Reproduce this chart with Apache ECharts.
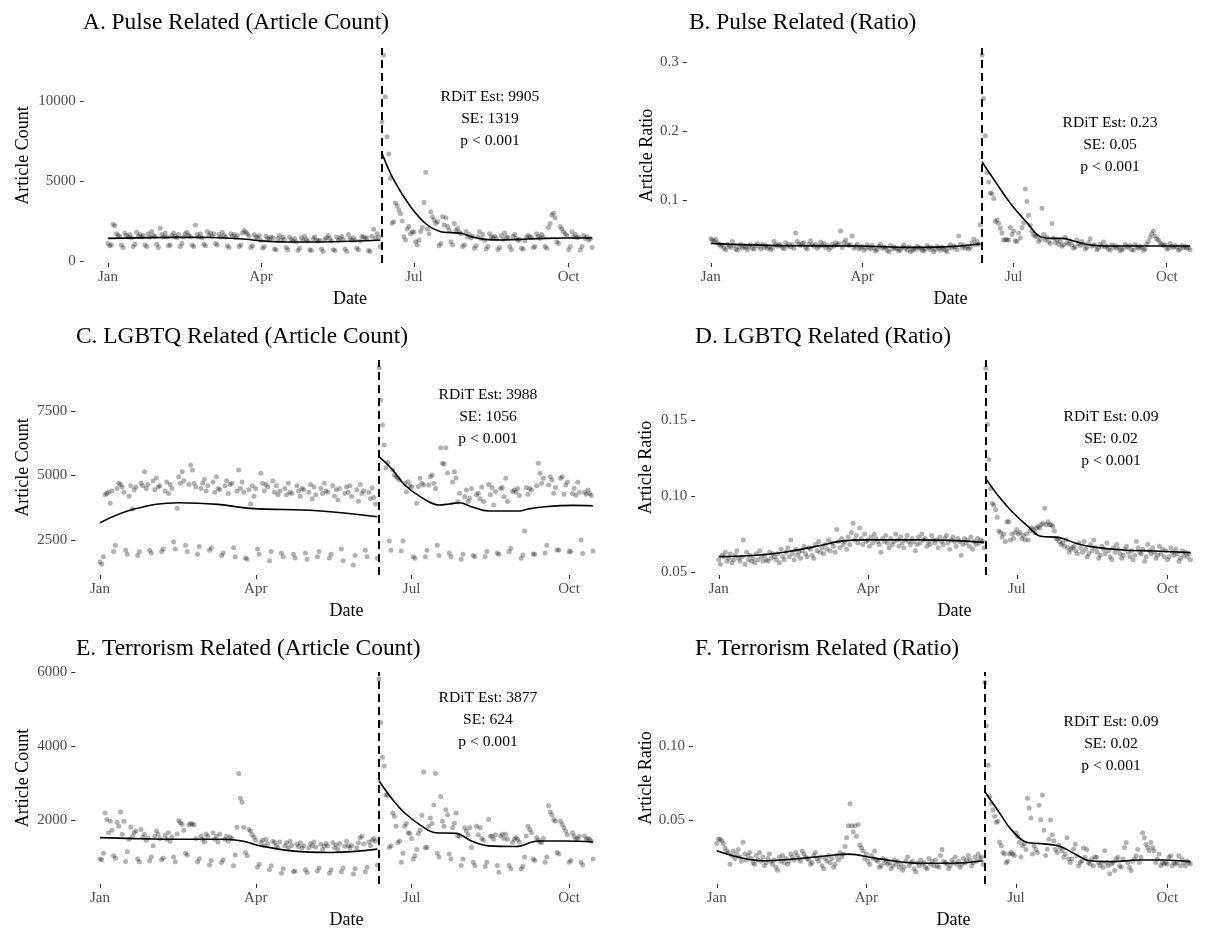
<!DOCTYPE html>
<html>
<head>
<meta charset="utf-8">
<script src="https://cdn.jsdelivr.net/npm/echarts@6/dist/echarts.min.js"></script>
<style>
  html, body { margin: 0; padding: 0; background: #fff; }
  #chart { width: 1214px; height: 930px; }
</style>
</head>
<body>
<div id="chart"></div>
<script>
// day index 0 = 2016-01-01 (Friday); one row = one week (Fri..Thu)
const cutoffDay = 163; // 2016-06-12
const monthTicks = [0, 91, 182, 274];
const monthLabels = ["Jan", "Apr", "Jul", "Oct"];

const pulseCount = [
  1100, 950, 1000, 2300, 2200, 1700, 1600,
  1550, 1000, 850, 1750, 1600, 1500, 1650,
  1450, 900, 1050, 1800, 1550, 1650, 1500,
  1600, 1000, 900, 1700, 1500, 1850, 1600,
  1550, 1050, 850, 2050, 1650, 1500, 1750,
  1500, 950, 1000, 1600, 1750, 1550, 1450,
  1650, 900, 1100, 1500, 1700, 1800, 1600,
  1550, 1000, 900, 2250, 1650, 1500, 1700,
  1450, 1050, 950, 1850, 1600, 1750, 1550,
  1700, 1100, 1000, 1650, 1500, 1800, 1600,
  1500, 950, 850, 1700, 1550, 1650, 1450,
  1600, 900, 1000, 1750, 1900, 1800, 1700,
  1550, 850, 950, 1650, 1500, 1450, 1600,
  1300, 800, 900, 1550, 1400, 1350, 1500,
  1450, 750, 700, 1400, 1600, 1300, 1500,
  1350, 850, 700, 1500, 1350, 1250, 1400,
  1200, 650, 800, 1450, 1300, 1550, 1350,
  1250, 700, 650, 1400, 1500, 1300, 1250,
  1300, 750, 600, 1350, 1450, 1600, 1400,
  1250, 700, 650, 1500, 1300, 1400, 1550,
  1350, 750, 600, 1650, 1400, 1300, 1450,
  1300, 800, 700, 1250, 1550, 1500, 1400,
  1450, 650, 600, 1550, 1980, 1400, 1700,
  1500, 900, 8700, 12875, 10270, 7770, 6690,
  5170, 2360, 2450, 3625, 3460, 3190, 2950,
  2500, 1520, 1310, 2000, 2150, 1700, 1830,
  1800, 1200, 1000, 1300, 1850, 2100, 3650,
  5540, 2000, 1700, 3080, 2770, 2560, 2350,
  2460, 960, 1100, 2770, 2250, 2700, 2150,
  1940, 1200, 1000, 2350, 1900, 2050, 1800,
  1700, 900, 1000, 1850, 1500, 1650, 1450,
  1550, 800, 950, 1520, 1830, 1400, 1650,
  1300, 750, 900, 1700, 1500, 1450, 1550,
  1400, 700, 850, 1600, 1350, 1750, 1500,
  1450, 900, 700, 1550, 1650, 1400, 1300,
  1350, 800, 750, 1250, 1500, 1600, 1520,
  1450, 850, 900, 1700, 1550, 1400, 1650,
  1500, 900, 800, 2100, 2350, 2875, 2980,
  2700, 1200, 1100, 2150, 2000, 1830, 1700,
  1600, 700, 900, 1830, 1520, 1650, 1450,
  1500, 690, 900, 1600, 1400, 1520, 1310,
  1400, 850
];

const pulseRatio = [
  .044, .042, .040, .043, .038, .036, .033,
  .035, .030, .028, .036, .033, .031, .040,
  .034, .029, .027, .032, .036, .030, .033,
  .031, .028, .033, .035, .030, .029, .034,
  .037, .033, .029, .036, .031, .034, .030,
  .032, .028, .030, .040, .035, .033, .036,
  .034, .031, .029, .038, .033, .036, .032,
  .035, .030, .052, .040, .036, .034, .037,
  .038, .031, .029, .036, .041, .035, .033,
  .036, .030, .033, .039, .034, .037, .031,
  .034, .028, .031, .036, .033, .038, .035,
  .037, .055, .031, .038, .042, .036, .034,
  .035, .048, .030, .033, .036, .029, .031,
  .033, .027, .030, .035, .031, .029, .034,
  .030, .026, .028, .033, .036, .030, .032,
  .031, .027, .025, .034, .029, .032, .030,
  .029, .026, .028, .031, .035, .030, .027,
  .032, .025, .027, .030, .028, .033, .031,
  .030, .027, .026, .029, .034, .031, .028,
  .031, .025, .028, .033, .030, .027, .032,
  .029, .027, .025, .031, .035, .030, .033,
  .032, .028, .048, .036, .031, .034, .030,
  .033, .029, .031, .038, .043, .035, .040,
  .036, .064, .310, .247, .193, .140, .126,
  .110, .109, .102, .069, .071, .066, .059,
  .052, .042, .043, .042, .042, .060, .050,
  .055, .041, .040, .052, .045, .060, .067,
  .116, .098, .078, .063, .055, .050, .048,
  .047, .040, .043, .088, .050, .042, .046,
  .040, .037, .066, .045, .038, .042, .036,
  .040, .033, .035, .046, .038, .036, .041,
  .035, .030, .032, .042, .037, .034, .040,
  .036, .029, .031, .038, .044, .033, .035,
  .034, .028, .030, .036, .033, .039, .032,
  .033, .029, .027, .035, .031, .034, .030,
  .032, .026, .028, .030, .036, .033, .031,
  .034, .028, .027, .035, .032, .030, .033,
  .031, .027, .029, .036, .040, .046, .051,
  .055, .048, .044, .042, .038, .036, .034,
  .035, .029, .030, .037, .033, .031, .034,
  .032, .027, .029, .034, .031, .033, .030,
  .031, .028
];

const lgbtqCount = [
  1650, 1560, 1850, 4250, 4300, 4350, 3920,
  4400, 2050, 2300, 4500, 4700, 4650, 4550,
  4350, 2100, 1950, 4200, 4600, 3700, 4450,
  4550, 1900, 2050, 4700, 4600, 5150, 4500,
  4650, 2100, 2000, 4800, 4450, 4900, 4550,
  4600, 2050, 2150, 4400, 4750, 4300, 4650,
  4500, 2435, 2150, 3730, 4950, 4700, 5150,
  4800, 2300, 2050, 4650, 5407, 5213, 4700,
  4550, 1950, 2250, 4500, 4700, 4850, 4400,
  4600, 2100, 2200, 4750, 4350, 4950, 4500,
  4450, 1900, 2000, 4600, 4800, 4300, 4650,
  4700, 2200, 1850, 4400, 5213, 4500, 4750,
  4350, 1800, 1750, 4450, 3900, 4600, 4200,
  4500, 2150, 1950, 5084, 4700, 4400, 4650,
  4550, 1700, 2050, 4800, 4350, 4600, 4250,
  4400, 2000, 1850, 4500, 4250, 4700, 4350,
  4300, 1950, 1800, 4600, 4400, 4200, 4500,
  4450, 2000, 1750, 4350, 4650, 4100, 4550,
  4250, 1850, 2050, 4500, 4300, 4700, 4400,
  4350, 1800, 1950, 4600, 4200, 4450, 4050,
  4500, 2150, 1700, 4300, 4550, 4350, 4600,
  4200, 1531, 1900, 4450, 4000, 4650, 4300,
  4400, 2100, 1850, 4350, 4100, 4527, 4150,
  3895, 1790, 9178, 7926, 6957, 6182, 5300,
  5500, 2460, 2100, 5213, 5019, 4954, 4900,
  4825, 2070, 2460, 4700, 4370, 4760, 4600,
  4550, 1850, 1790, 3920, 4570, 4890, 4700,
  4630, 1850, 2100, 4630, 4950, 5020, 4700,
  4500, 2300, 1900, 6078, 5470, 5450, 6078,
  5100, 2000, 1850, 4750, 5150, 4900, 3985,
  4310, 1750, 1950, 4180, 4440, 3990, 4120,
  4500, 1900, 1850, 4250, 4310, 4100, 4550,
  3990, 1860, 2050, 4650, 4250, 4530, 3860,
  4380, 2000, 1950, 4500, 4530, 4180, 4890,
  3990, 2050, 2180, 4380, 4440, 4350, 4500,
  4220, 1790, 1920, 2850, 4530, 4270, 4500,
  4440, 1960, 1950, 4600, 5472, 5085, 4700,
  4890, 2000, 2300, 4630, 4950, 4830, 4310,
  4530, 2110, 2110, 4890, 4950, 4270, 4630,
  4750, 2050, 2050, 4300, 4500, 4230, 4740,
  4350, 2500, 1980, 4350, 4270, 4440, 4300,
  4220, 2070
];

const lgbtqRatio = [
  .058, .055, .061, .060, .063, .057, .059,
  .062, .056, .058, .061, .064, .059, .057,
  .060, .071, .055, .063, .058, .061, .057,
  .059, .056, .062, .058, .064, .060, .057,
  .061, .058, .057, .063, .059, .062, .060,
  .058, .062, .056, .065, .060, .058, .063,
  .066, .060, .071, .062, .058, .065, .061,
  .063, .059, .064, .067, .062, .060, .066,
  .065, .061, .059, .068, .064, .070, .063,
  .066, .062, .068, .065, .071, .064, .069,
  .067, .063, .078, .070, .066, .072, .068,
  .070, .065, .073, .068, .076, .082, .071,
  .074, .069, .079, .072, .068, .075, .070,
  .071, .067, .073, .069, .075, .072, .070,
  .068, .063, .072, .070, .074, .069, .066,
  .072, .068, .070, .075, .071, .067, .073,
  .069, .066, .071, .074, .070, .068, .072,
  .070, .064, .068, .073, .069, .075, .071,
  .072, .067, .070, .068, .074, .071, .069,
  .071, .066, .073, .070, .068, .072, .074,
  .069, .065, .071, .073, .070, .067, .072,
  .070, .061, .068, .072, .069, .071, .067,
  .073, .065, .070, .068, .072, .069, .071,
  .070, .066, .184, .147, .124, .105, .095,
  .094, .091, .086, .077, .076, .073, .075,
  .070, .083, .083, .071, .075, .072, .076,
  .078, .075, .076, .072, .074, .071, .075,
  .071, .077, .079, .078, .076, .079, .080,
  .079, .081, .082, .092, .081, .083, .081,
  .081, .080, .077, .072, .072, .070, .068,
  .069, .067, .071, .066, .063, .065, .066,
  .067, .064, .062, .069, .066, .063, .070,
  .065, .060, .062, .068, .064, .071, .066,
  .063, .059, .061, .067, .065, .062, .069,
  .064, .060, .058, .066, .063, .068, .065,
  .062, .059, .061, .065, .067, .063, .060,
  .064, .058, .061, .070, .066, .063, .062,
  .065, .057, .060, .068, .064, .062, .066,
  .063, .059, .061, .067, .062, .065, .060,
  .064, .058, .060, .066, .063, .061, .065,
  .062, .057, .059, .064, .061, .063, .060,
  .062, .058
];

const terrorCount = [
  942, 920, 1098, 2187, 2009, 1653, 1964,
  1720, 1031, 960, 1938, 1831, 2213, 1609,
  1964, 876, 1142, 1476, 1809, 1560, 1650,
  1698, 942, 870, 1742, 1530, 1609, 1450,
  1520, 887, 1000, 1298, 1560, 1700, 1620,
  1500, 920, 960, 1580, 1480, 1650, 1420,
  1540, 1000, 870, 1620, 1980, 1920, 1880,
  1720, 1098, 1050, 1870, 1900, 1890, 1860,
  1500, 860, 950, 1560, 1480, 1400, 1620,
  1560, 780, 900, 1650, 1480, 1560, 1400,
  1620, 850, 920, 1480, 1560, 1420, 1530,
  1500, 760, 1050, 1800, 3253, 2587, 2480,
  1800, 1120, 1030, 1740, 1700, 1600, 1530,
  1450, 720, 800, 1390, 1450, 1300, 1480,
  1360, 650, 760, 1420, 1390, 1310, 1250,
  1400, 560, 680, 1300, 1380, 1250, 1420,
  1310, 600, 620, 1340, 1280, 1380, 1240,
  1300, 650, 580, 1250, 1360, 1300, 1400,
  1270, 620, 700, 1340, 1200, 1290, 1360,
  1300, 560, 650, 1380, 1250, 1320, 1200,
  1360, 600, 700, 1290, 1420, 1300, 1250,
  1310, 540, 680, 1250, 1380, 1520, 1560,
  1350, 600, 720, 1400, 1300, 1450, 1500,
  1420, 781, 5813, 4631, 3698, 3458, 2675,
  2675, 1253, 1300, 2187, 2098, 1831, 1387,
  1431, 853, 1100, 1831, 1901, 1653, 1635,
  1500, 941, 1031, 1200, 1635, 1720, 2125,
  3298, 1253, 1253, 1831, 2054, 1900, 2400,
  3253, 1100, 1000, 2631, 1964, 1831, 2275,
  2142, 1076, 942, 1787, 1900, 2187, 1564,
  1564, 764, 942, 1787, 1700, 1600, 1787,
  1253, 853, 764, 1831, 1600, 1787, 1500,
  1450, 742, 853, 2009, 1560, 1564, 1480,
  1600, 764, 587, 1564, 1609, 1500, 1609,
  1480, 764, 680, 1387, 1476, 1520, 1476,
  1400, 676, 742, 1000, 1564, 1831, 1742,
  1653, 942, 900, 1520, 1450, 1400, 1387,
  1500, 853, 1000, 2381, 2213, 2142, 2009,
  1964, 1120, 1076, 1964, 1875, 1787, 1700,
  1600, 853, 900, 1653, 1560, 1476, 1500,
  1560, 853, 780, 1564, 1476, 1500, 1476,
  1420, 942
];

const terrorRatio = [
  .034, .037, .037, .036, .034, .031, .029,
  .028, .020, .026, .029, .024, .027, .030,
  .025, .022, .035, .027, .023, .026, .028,
  .024, .021, .020, .026, .023, .028, .022,
  .025, .019, .021, .024, .027, .022, .020,
  .023, .018, .016, .025, .022, .026, .021,
  .024, .020, .022, .027, .025, .023, .028,
  .026, .024, .022, .029, .027, .025, .024,
  .023, .020, .021, .026, .028, .024, .022,
  .025, .019, .017, .024, .022, .026, .021,
  .024, .018, .020, .026, .023, .028, .025,
  .027, .032, .038, .046, .061, .046, .042,
  .046, .039, .047, .033, .031, .029, .024,
  .027, .022, .020, .026, .024, .029, .023,
  .022, .018, .019, .024, .021, .023, .020,
  .021, .017, .019, .023, .020, .022, .018,
  .020, .016, .018, .022, .025, .019, .021,
  .022, .017, .015, .021, .019, .023, .020,
  .021, .018, .017, .024, .020, .022, .019,
  .023, .019, .018, .026, .030, .022, .021,
  .020, .017, .019, .023, .021, .025, .020,
  .022, .018, .020, .024, .021, .023, .026,
  .023, .019, .021, .025, .022, .027, .024,
  .025, .020, .143, .1135, .0869, .0658, .0613,
  .0569, .0525, .0484, .0491, .035, .0325, .028,
  .027, .021, .022, .027, .028, .027, .026,
  .0413, .039, .035, .025, .0325, .034, .030,
  .0647, .058, .0513, .027, .0324, .030, .028,
  .060, .0502, .0669, .043, .026, .0302, .037,
  .050, .040, .036, .030, .028, .033, .031,
  .0291, .0247, .0269, .038, .0236, .0213, .0236,
  .0302, .0335, .0258, .0191, .0213, .022, .031,
  .0247, .030, .0213, .0202, .0236, .0191, .025,
  .0247, .0213, .0191, .0213, .0180, .0291, .0213,
  .0191, .0136, .0202, .0213, .0158, .0236, .0247,
  .0191, .0180, .0236, .0313, .0347, .0213, .0180,
  .0158, .022, .0236, .0258, .030, .0213, .0247,
  .0413, .038, .0335, .0313, .0291, .0347, .0313,
  .0291, .0213, .0236, .0269, .0191, .0213, .0202,
  .0213, .0202, .0247, .0258, .0191, .0213, .0202,
  .0213, .0258, .0191, .0236, .0213, .0191, .0225,
  .0213, .0202
];

// smoothed fits [day, value], before and after the cutoff
const pulseCountFitPre = [[0, 1417], [26, 1460], [55, 1480], [70, 1440], [82, 1360], [91, 1260], [105, 1195], [125, 1190], [145, 1230], [162, 1313]];
const pulseCountFitPost = [[163, 6729], [170, 5063], [180, 3396], [190, 2250], [198, 1833], [204, 1771], [210, 1729], [216, 1521], [224, 1354], [234, 1313], [244, 1354], [260, 1417], [272, 1438], [288, 1438]];
const pulseRatioFitPre = [[0, .0372], [45, .0338], [90, .0333], [120, .0314], [140, .0320], [162, .0362]];
const pulseRatioFitPost = [[163, .1555], [171, .1266], [180, .0952], [190, .0672], [198, .0469], [205, .0444], [211, .0444], [218, .0406], [228, .0348], [238, .0333], [257, .0333], [288, .0333]];
const lgbtqCountFitPre = [[0, 3171], [20, 3700], [46, 3945], [69, 3880], [88, 3725], [127, 3635], [162, 3403]];
const lgbtqCountFitPost = [[163, 5729], [171, 5213], [178, 4632], [188, 4141], [198, 3858], [204, 3896], [210, 3945], [217, 3790], [227, 3622], [245, 3622], [250, 3700], [260, 3790], [276, 3842], [288, 3830]];
const lgbtqRatioFitPre = [[0, .0601], [20, .0608], [40, .0630], [60, .0670], [75, .0703], [90, .0711], [124, .0711], [162, .0695]];
const lgbtqRatioFitPost = [[163, .1116], [171, .0996], [179, .0898], [189, .0798], [196, .0737], [208, .0726], [218, .0689], [227, .0667], [247, .0645], [266, .0638], [288, .0627]];
const terrorCountFitPre = [[0, 1520], [20, 1493], [50, 1476], [73, 1476], [83, 1431], [92, 1316], [112, 1164], [135, 1120], [162, 1209]];
const terrorCountFitPost = [[163, 3058], [171, 2542], [178, 2187], [188, 1831], [196, 1653], [208, 1636], [217, 1431], [227, 1298], [243, 1280], [256, 1431], [272, 1431], [288, 1404]];
const terrorRatioFitPre = [[0, .0291], [28, .0224], [47, .0236], [67, .0258], [80, .0269], [97, .0240], [124, .0207], [144, .0207], [162, .0224]];
const terrorRatioFitPost = [[163, .0691], [172, .0547], [179, .0436], [189, .0347], [197, .0340], [208, .0324], [218, .0269], [227, .0224], [241, .0218], [256, .0229], [272, .0229], [288, .0218]];

const pulseCountTicks = [0, 5000, 10000];
const pulseRatioTicks = [0.1, 0.2, 0.3];
const lgbtqCountTicks = [2500, 5000, 7500];
const lgbtqRatioTicks = [0.05, 0.10, 0.15];
const terrorCountTicks = [2000, 4000, 6000];
const terrorRatioTicks = [0.05, 0.10];

const rditEst = ["9905", "0.23", "3988", "0.09", "3877", "0.09"];
const rditSE = ["1319", "0.05", "1056", "0.02", "624", "0.02"];
const rditP = "p < 0.001";

const FONT = "'Liberation Serif', 'Times New Roman', serif";

const panels = [
  { title: "A. Pulse Related (Article Count)", yName: "Article Count", values: pulseCount, pre: pulseCountFitPre, post: pulseCountFitPost, ticks: pulseCountTicks, digits: 0,
    grid: { left: 83.8, top: 48, width: 532.5 }, yMin: -125, yMax: 13312, titleX: 78, titleY: 6, nameGap: 52, ann: [490, 86] },
  { title: "B. Pulse Related (Ratio)", yName: "Article Ratio", values: pulseRatio, pre: pulseRatioFitPre, post: pulseRatioFitPost, ticks: pulseRatioTicks, digits: 1,
    grid: { left: 686.8, top: 48, width: 555 }, yMin: 0.0087, yMax: 0.3203, titleX: 684, titleY: 6, nameGap: 31, ann: [1110, 112] },
  { title: "C. LGBTQ Related (Article Count)", yName: "Article Count", values: lgbtqCount, pre: lgbtqCountFitPre, post: lgbtqCountFitPost, ticks: lgbtqCountTicks, digits: 0,
    grid: { left: 75.3, top: 360, width: 542.4 }, yMin: 1143, yMax: 9477, titleX: 71, titleY: 320, nameGap: 43, ann: [488, 384] },
  { title: "D. LGBTQ Related (Ratio)", yName: "Article Ratio", values: lgbtqRatio, pre: lgbtqRatioFitPre, post: lgbtqRatioFitPost, ticks: lgbtqRatioTicks, digits: 2,
    grid: { left: 695.2, top: 360, width: 545.8 }, yMin: 0.048, yMax: 0.1895, titleX: 690, titleY: 320, nameGap: 40, ann: [1111, 406] },
  { title: "E. Terrorism Related (Article Count)", yName: "Article Count", values: terrorCount, pre: terrorCountFitPre, post: terrorCountFitPost, ticks: terrorCountTicks, digits: 0,
    grid: { left: 75.3, top: 672, width: 542.4 }, yMin: 267, yMax: 6000, titleX: 71, titleY: 632, nameGap: 43, ann: [488, 687] },
  { title: "F. Terrorism Related (Ratio)", yName: "Article Ratio", values: terrorRatio, pre: terrorRatioFitPre, post: terrorRatioFitPost, ticks: terrorRatioTicks, digits: 2,
    grid: { left: 693.1, top: 672, width: 548 }, yMin: 0.0067, yMax: 0.15, titleX: 690, titleY: 632, nameGap: 38, ann: [1111, 711] }
];

const chart = echarts.init(document.getElementById("chart"), null, { renderer: "canvas" });

const option = {
  animation: false,
  backgroundColor: "#fff",
  title: [],
  grid: [],
  xAxis: [],
  yAxis: [],
  series: [],
  graphic: []
};

panels.forEach((p, i) => {
  option.title.push({
    text: p.title, left: p.titleX, top: p.titleY,
    textStyle: { fontFamily: FONT, fontSize: 23.4, fontWeight: "normal", color: "#000" }
  });
  option.grid.push({ left: p.grid.left, top: p.grid.top, width: p.grid.width, height: 215 });
  option.xAxis.push({
    type: "value", gridIndex: i, min: -14.4, max: 302.4,
    name: "Date", nameLocation: "middle", nameGap: 27,
    nameTextStyle: { fontFamily: FONT, fontSize: 18, color: "#000" },
    axisLine: { show: false, onZero: false },
    splitLine: { show: false },
    axisTick: { show: true, length: 4, customValues: monthTicks, lineStyle: { color: "#333", width: 1 } },
    axisLabel: {
      customValues: monthTicks, margin: 7, fontFamily: FONT, fontSize: 15, color: "#4d4d4d",
      formatter: (v) => monthLabels[monthTicks.indexOf(v)]
    }
  });
  option.yAxis.push({
    type: "value", gridIndex: i, min: p.yMin, max: p.yMax,
    name: p.yName, nameLocation: "middle", nameGap: p.nameGap,
    nameTextStyle: { fontFamily: FONT, fontSize: 18, color: "#000" },
    axisLine: { show: false, onZero: false },
    splitLine: { show: false },
    axisTick: { show: true, length: 4, customValues: p.ticks, lineStyle: { color: "#333", width: 1 } },
    axisLabel: {
      customValues: p.ticks, margin: 8, fontFamily: FONT, fontSize: 15, color: "#4d4d4d",
      formatter: (v) => v.toFixed(p.digits)
    }
  });
  option.series.push({
    type: "scatter", xAxisIndex: i, yAxisIndex: i, silent: true,
    symbolSize: 5,
    itemStyle: { color: "rgba(0,0,0,0.38)" },
    data: p.values.map((v, d) => [d, v])
  });
  option.series.push({
    type: "line", xAxisIndex: i, yAxisIndex: i, silent: true,
    smooth: 0.4, showSymbol: false,
    lineStyle: { color: "#000", width: 1.6 },
    data: p.pre
  });
  option.series.push({
    type: "line", xAxisIndex: i, yAxisIndex: i, silent: true,
    smooth: 0.4, showSymbol: false,
    lineStyle: { color: "#000", width: 1.6 },
    data: p.post,
    markLine: {
      silent: true, symbol: ["none", "none"], label: { show: false },
      lineStyle: { color: "#000", type: [8, 5], width: 2 },
      data: [{ xAxis: cutoffDay }]
    }
  });
  option.graphic.push({
    type: "text", x: p.ann[0], y: p.ann[1],
    style: {
      text: "RDiT Est: " + rditEst[i] + "\nSE: " + rditSE[i] + "\n" + rditP,
      font: "15.6px " + FONT, fill: "#000", align: "center", verticalAlign: "top", lineHeight: 22
    }
  });
});

chart.setOption(option);
</script>
</body>
</html>
